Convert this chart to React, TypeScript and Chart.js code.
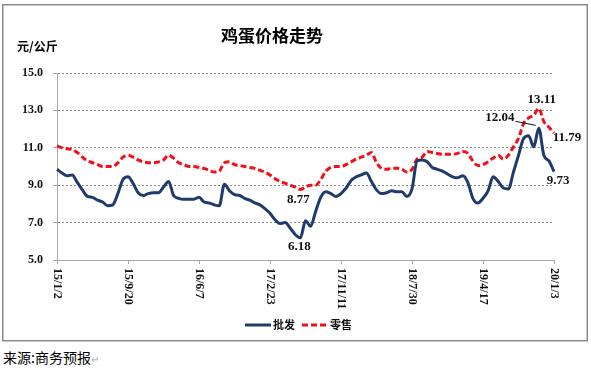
import React, { useEffect, useRef } from 'react';
import { Chart, registerables } from 'chart.js';

Chart.register(...registerables);

const TITLE = '鸡蛋价格走势';
const UNIT = '元/公斤';
const SOURCE = '来源:商务预报';
const TICK_LABELS = ['15/1/2', '15/9/20', '16/6/7', '17/2/23', '17/11/11', '18/7/30', '19/4/17', '20/1/3'];
const STEP = 14;
const Y_TICKS = [5, 7, 9, 11, 13, 15];
const SERIES_NAMES = ['批发', '零售'];

const WHOLESALE = [
  9.85, 9.65, 9.5, 9.55, 9.15, 8.75, 8.4, 8.35, 8.2, 8.1,
  7.9, 7.95, 8.55, 9.3, 9.45, 9.1, 8.6, 8.45, 8.55, 8.6,
  8.6, 8.9, 9.2, 8.45, 8.3, 8.25, 8.25, 8.25, 8.35, 8.1,
  8.05, 7.95, 7.9, 9.05, 8.7, 8.5, 8.45, 8.3, 8.2, 8.05,
  7.95, 7.75, 7.5, 7.15, 6.95, 7.0, 6.7, 6.35, 6.18, 7.1,
  6.8, 7.6, 8.35, 8.65, 8.55, 8.4, 8.55, 8.85, 9.25, 9.45,
  9.55, 9.65, 9.2, 8.75, 8.55, 8.6, 8.7, 8.65, 8.65, 8.4,
  8.8, 10.3, 10.35, 10.25, 9.95, 9.85, 9.75, 9.6, 9.45, 9.4,
  9.5, 9.15, 8.3, 8.05, 8.3, 8.7, 9.45, 9.2, 8.85, 8.8,
  9.7, 10.6, 11.5, 11.65, 11.05, 12.04, 10.6, 10.3, 9.73,
];

const RETAIL = [
  11.1, 11.0, 10.95, 10.9, 10.75, 10.5, 10.3, 10.2, 10.1, 10.0,
  10.0, 10.0, 10.2, 10.5, 10.6, 10.5, 10.35, 10.25, 10.2, 10.2,
  10.25, 10.35, 10.6, 10.45, 10.2, 10.1, 10.0, 10.0, 9.95, 9.9,
  9.8, 9.7, 9.75, 10.2, 10.25, 10.1, 10.05, 10.0, 9.95, 9.9,
  9.8, 9.7, 9.55, 9.35, 9.2, 9.1, 9.0, 8.9, 8.77, 8.9,
  9.0, 9.0, 9.3, 9.75, 9.95, 10.0, 10.0, 10.1, 10.25, 10.4,
  10.5, 10.6, 10.75, 10.2, 9.9, 9.85, 9.9, 9.9, 9.85, 9.7,
  9.85, 10.4, 10.5, 10.8, 10.75, 10.7, 10.65, 10.65, 10.65, 10.7,
  10.8, 10.7, 10.3, 10.05, 10.1, 10.25, 10.45, 10.6, 10.4, 10.6,
  11.05, 11.5, 12.3, 12.6, 12.75, 13.11, 12.4, 12.1, 11.79,
];

const CATEGORIES = WHOLESALE.map((_, i) => (i % STEP === 0 ? TICK_LABELS[i / STEP] : ''));

// value labels: dataset index, point index, offset of label centre from point
const VALUE_LABELS = [
  { ds: 1, index: 48, dx: -2, dy: 10, leader: false },
  { ds: 0, index: 48, dx: -1, dy: 9, leader: false },
  { ds: 1, index: 95, dx: 3, dy: -9, leader: false },
  { ds: 0, index: 95, dx: -39, dy: -11, leader: true },
  { ds: 1, index: 98, dx: 13, dy: 5, leader: false },
  { ds: 0, index: 98, dx: 4, dy: 9, leader: false },
];

const BLUE = '#1f3b6e';
const RED = '#f21018';
const SERIF = '"Liberation Serif", "Times New Roman", serif';
const CJK = '"Noto Sans CJK SC", sans-serif';

const decorPlugin = {
  id: 'decor',
  beforeDraw(chart: any) {
    const ctx = chart.ctx;
    ctx.save();
    ctx.strokeStyle = '#8a8a8a';
    ctx.lineWidth = 1.5;
    ctx.strokeRect(2.75, 4.75, 584.5, 336);
    ctx.fillStyle = '#000';
    ctx.font = `bold 17px ${CJK}`;
    ctx.textAlign = 'center';
    ctx.textBaseline = 'middle';
    ctx.fillText(TITLE, 272, 36);
    ctx.font = `bold 12px ${CJK}`;
    ctx.textAlign = 'left';
    ctx.fillText(UNIT, 17, 46);
    ctx.restore();
  },
  afterDraw(chart: any) {
    const ctx = chart.ctx;
    const xs = chart.scales.x;
    ctx.save();
    // rotated x tick labels (reading top to bottom)
    ctx.fillStyle = '#111';
    ctx.font = `bold 12px ${SERIF}`;
    ctx.textAlign = 'left';
    ctx.textBaseline = 'middle';
    xs.ticks.forEach((t: any) => {
      const x = xs.getPixelForValue(t.value);
      ctx.save();
      ctx.translate(x, xs.top + 8);
      ctx.rotate(Math.PI / 2);
      ctx.fillText(CATEGORIES[t.value], 0, 0);
      ctx.restore();
    });
    // value labels
    ctx.font = `bold 13px ${SERIF}`;
    ctx.textAlign = 'center';
    VALUE_LABELS.forEach((l) => {
      const pt = chart.getDatasetMeta(l.ds).data[l.index];
      const v = chart.data.datasets[l.ds].data[l.index] as number;
      const text = v.toFixed(2);
      const cx = pt.x + l.dx;
      const cy = pt.y + l.dy;
      ctx.fillText(text, cx, cy);
      if (l.leader) {
        const w = ctx.measureText(text).width;
        ctx.strokeStyle = '#111';
        ctx.lineWidth = 1;
        ctx.beginPath();
        ctx.moveTo(cx + w / 2 + 1, cy + 4);
        ctx.lineTo(pt.x - 3, pt.y - 3);
        ctx.stroke();
      }
    });
    // legend
    const ly = 325;
    const items = [
      { x: 245, ds: chart.data.datasets[0] },
      { x: 302, ds: chart.data.datasets[1] },
    ];
    ctx.font = `bold 11px ${CJK}`;
    ctx.textAlign = 'left';
    items.forEach((it) => {
      ctx.save();
      ctx.strokeStyle = it.ds.borderColor;
      ctx.lineWidth = 3;
      ctx.setLineDash(it.ds.borderDash || []);
      ctx.beginPath();
      ctx.moveTo(it.x, ly);
      ctx.lineTo(it.x + 26, ly);
      ctx.stroke();
      ctx.restore();
      ctx.fillStyle = '#111';
      ctx.fillText(it.ds.label, it.x + 28, ly);
    });
    ctx.restore();
  },
};

export default function App() {
  const ref = useRef<HTMLCanvasElement | null>(null);
  useEffect(() => {
    const chart = new Chart(ref.current as HTMLCanvasElement, {
      type: 'line',
      data: {
        labels: CATEGORIES,
        datasets: [
          {
            label: SERIES_NAMES[0],
            data: WHOLESALE,
            borderColor: BLUE,
            backgroundColor: BLUE,
            borderWidth: 3,
            pointRadius: 0,
            cubicInterpolationMode: 'monotone',
          },
          {
            label: SERIES_NAMES[1],
            data: RETAIL,
            borderColor: RED,
            backgroundColor: RED,
            borderWidth: 3,
            borderDash: [6, 3],
            pointRadius: 0,
            cubicInterpolationMode: 'monotone',
          },
        ],
      },
      options: {
        animation: false,
        responsive: false,
        maintainAspectRatio: false,
        layout: { padding: { left: 0, right: 37, top: 73, bottom: 0 } },
        plugins: { legend: { display: false }, tooltip: { enabled: false }, title: { display: false } },
        scales: {
          x: {
            type: 'category',
            offset: false,
            afterBuildTicks: (s: any) => {
              s.ticks = s.ticks.filter((t: any) => t.value % STEP === 0);
            },
            afterFit: (s: any) => {
              s.height = 85;
            },
            ticks: { display: false, autoSkip: false },
            grid: { drawOnChartArea: false, drawTicks: true, tickLength: 4, color: '#a8a8a8' },
            border: { display: true, color: '#a8a8a8', width: 1 },
          },
          y: {
            min: 5,
            max: 15,
            afterBuildTicks: (s: any) => {
              s.ticks = Y_TICKS.map((v) => ({ value: v }));
            },
            afterFit: (s: any) => {
              s.width = 57;
            },
            ticks: {
              callback: (v: any) => Number(v).toFixed(1),
              color: '#111',
              font: { family: SERIF, weight: 'bold', size: 12 },
              padding: 10,
            },
            grid: { color: '#8c8c8c', lineWidth: 1, tickLength: 4, tickColor: '#a8a8a8' },
            border: { display: true, color: '#a8a8a8', width: 1, dash: [2, 2] },
          },
        },
      },
      plugins: [decorPlugin],
    } as any);
    return () => chart.destroy();
  }, []);
  return (
    <div style={{ position: 'absolute', left: 0, top: 0, width: 591, height: 375, background: '#fff' }}>
      <canvas ref={ref} width={591} height={345} style={{ position: 'absolute', left: 0, top: 0, width: 591, height: 345 }} />
      <div
        style={{
          position: 'absolute',
          left: 3,
          top: 348,
          fontFamily: CJK,
          fontSize: 14,
          lineHeight: '18px',
          color: '#000',
          whiteSpace: 'nowrap',
        }}
      >
        {SOURCE}
        <span style={{ color: '#aaa', fontSize: 10 }}>↵</span>
      </div>
    </div>
  );
}
